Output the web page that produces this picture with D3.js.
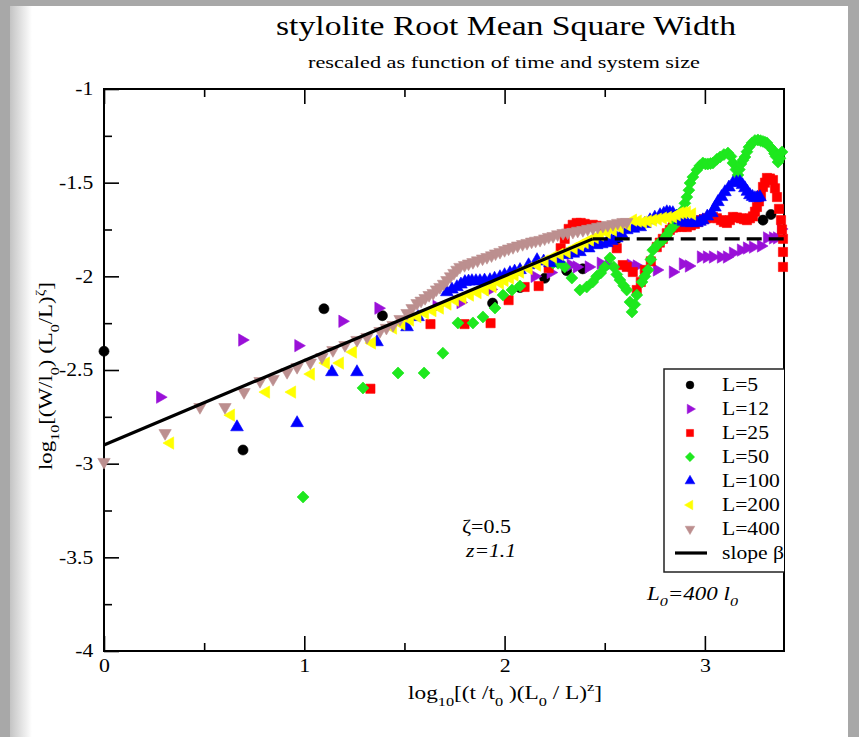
<!DOCTYPE html>
<html><head><meta charset="utf-8">
<script src="https://cdn.jsdelivr.net/npm/d3@7"></script>
<style>html,body{margin:0;padding:0;background:#fff}svg{display:block}</style>
</head><body>
<svg id="c" width="859" height="737"></svg>
<script>
// ---------- data (x = log10 rescaled time, y = log10 rescaled width) ----------
const L5 = [[0,-2.40],[0.694,-2.927],[1.098,-2.173],[1.39,-2.21],[1.94,-2.143],[2.077,-2.06],[2.2,-2.01],[2.31,-1.97],[2.39,-1.96],[2.56,-1.80],[2.84,-1.73],[3.29,-1.70],[3.33,-1.67]];
const L12 = [[0.28,-2.645],[0.69,-2.34],[0.97,-2.37],[1.19,-2.24],[1.37,-2.17],[1.66,-2.16],[1.78,-2.14],[1.93,-2.07],[2.15,-2.0],[2.23,-1.98],[2.33,-1.94],[2.36,-1.95],[2.42,-1.95],[2.48,-1.93],[2.52,-1.94],[2.63,-1.94],[2.66,-1.945],[2.76,-1.966],[2.84,-1.977],[2.89,-1.934],[2.92,-1.945],[2.98,-1.897],[3.01,-1.897],[3.04,-1.897],[3.08,-1.897],[3.11,-1.897],[3.14,-1.876],[3.18,-1.86],[3.21,-1.849],[3.24,-1.844],[3.28,-1.838],[3.31,-1.795],[3.34,-1.795],[3.36,-1.795],[3.38,-1.747]];
const L25 = [[1.33,-2.60],[1.63,-2.255],[1.80,-2.255],[1.93,-2.25],[2.02,-2.127],[2.10,-2.057],[2.17,-2.052],[2.22,-1.956],[2.28,-1.85],[2.30,-1.80],[2.32,-1.747],[2.34,-1.725],[2.36,-1.715],[2.38,-1.715],[2.40,-1.72],[2.42,-1.73],[2.44,-1.725],[2.46,-1.73],[2.56,-1.85],[2.59,-1.94],[2.61,-1.95],[2.64,-1.977],[2.66,-2.073],[2.68,-2.03],[2.70,-1.966],[2.73,-1.92],[2.76,-1.844],[2.775,-1.82],[2.79,-1.80],[2.81,-1.77],[2.825,-1.752],[2.84,-1.74],[2.86,-1.737],[2.885,-1.735],[2.91,-1.737],[2.93,-1.728],[2.95,-1.72],[2.965,-1.71],[2.98,-1.70],[2.995,-1.695],[3.01,-1.69],[3.025,-1.686],[3.04,-1.683],[3.06,-1.69],[3.08,-1.70],[3.095,-1.71],[3.11,-1.715],[3.125,-1.70],[3.14,-1.683],[3.16,-1.686],[3.18,-1.69],[3.195,-1.695],[3.21,-1.70],[3.225,-1.69],[3.24,-1.68],[3.25,-1.655],[3.26,-1.63],[3.27,-1.60],[3.28,-1.57],[3.29,-1.523],[3.30,-1.50],[3.31,-1.475],[3.325,-1.478],[3.34,-1.486],[3.35,-1.53],[3.36,-1.577],[3.37,-1.64],[3.38,-1.70],[3.385,-1.75],[3.39,-1.80],[3.39,-1.87],[3.39,-1.95]];
const L50 = [[0.994,-3.178],[1.293,-2.596],[1.468,-2.516],[1.598,-2.516],[1.692,-2.41],[1.767,-2.249],[1.842,-2.249],[1.892,-2.217],[1.952,-2.169],[1.992,-2.10],[2.037,-2.073],[2.077,-2.052],[2.242,-1.929],[2.267,-1.93],[2.30,-1.95],[2.336,-2.009],[2.376,-2.073],[2.41,-2.057],[2.44,-2.03],[2.46,-2.0],[2.48,-1.982],[2.50,-1.95],[2.526,-1.902],[2.545,-1.95],[2.56,-1.99],[2.576,-2.02],[2.595,-2.05],[2.61,-2.073],[2.626,-2.137],[2.636,-2.19],[2.65,-2.15],[2.66,-2.10],[2.686,-2.03],[2.70,-2.0],[2.716,-1.966],[2.73,-1.91],[2.74,-1.86],[2.765,-1.83],[2.79,-1.806],[2.81,-1.78],[2.826,-1.753],[2.845,-1.73],[2.86,-1.70],[2.875,-1.67],[2.89,-1.646],[2.90,-1.61],[2.91,-1.577],[2.92,-1.54],[2.926,-1.502],[2.94,-1.47],[2.96,-1.432],[2.975,-1.41],[2.99,-1.395],[3.003,-1.40],[3.015,-1.40],[3.028,-1.398],[3.04,-1.395],[3.06,-1.375],[3.076,-1.363],[3.095,-1.35],[3.115,-1.342],[3.13,-1.36],[3.14,-1.395],[3.155,-1.43],[3.165,-1.459],[3.172,-1.43],[3.18,-1.40],[3.19,-1.38],[3.20,-1.363],[3.21,-1.335],[3.22,-1.31],[3.235,-1.288],[3.25,-1.275],[3.265,-1.272],[3.278,-1.276],[3.29,-1.28],[3.30,-1.284],[3.31,-1.288],[3.325,-1.31],[3.34,-1.326],[3.348,-1.345],[3.355,-1.36],[3.365,-1.39],[3.375,-1.37],[3.385,-1.336]];
const L100 = [[0.664,-2.805],[0.964,-2.783],[1.138,-2.511],[1.263,-2.511],[1.363,-2.351],[1.513,-2.271],[1.568,-2.217],[1.712,-2.084],[1.737,-2.07],[1.762,-2.057],[1.782,-2.043],[1.802,-2.03],[1.82,-2.027],[1.837,-2.025],[1.857,-2.025],[1.877,-2.025],[1.90,-2.022],[1.927,-2.02],[1.95,-2.012],[1.977,-2.004],[2.0,-1.993],[2.027,-1.982],[2.05,-1.974],[2.077,-1.966],[2.12,-1.94],[2.162,-1.913],[2.195,-1.92],[2.227,-1.929],[2.27,-1.907],[2.31,-1.886],[2.343,-1.878],[2.376,-1.87],[2.42,-1.85],[2.46,-1.833],[2.485,-1.828],[2.51,-1.822],[2.535,-1.81],[2.56,-1.796],[2.585,-1.775],[2.61,-1.753],[2.643,-1.745],[2.677,-1.737],[2.70,-1.72],[2.726,-1.70],[2.75,-1.686],[2.776,-1.673],[2.795,-1.665],[2.81,-1.657],[2.825,-1.66],[2.84,-1.662],[2.858,-1.68],[2.876,-1.70],[2.893,-1.708],[2.91,-1.715],[2.935,-1.715],[2.96,-1.715],[2.975,-1.708],[2.99,-1.70],[3.012,-1.68],[3.035,-1.662],[3.05,-1.632],[3.065,-1.603],[3.083,-1.576],[3.10,-1.55],[3.12,-1.525],[3.14,-1.502],[3.158,-1.498],[3.175,-1.497],[3.188,-1.512],[3.20,-1.529],[3.212,-1.548],[3.225,-1.566],[3.238,-1.575],[3.25,-1.582],[3.262,-1.58],[3.275,-1.577]];
const L200 = [[0.33,-2.89],[0.634,-2.741],[0.809,-2.618],[0.939,-2.618],[1.033,-2.522],[1.108,-2.463],[1.178,-2.463],[1.243,-2.404],[1.338,-2.356],[1.443,-2.276],[1.485,-2.255],[1.528,-2.233],[1.565,-2.215],[1.603,-2.196],[1.64,-2.183],[1.677,-2.169],[1.715,-2.148],[1.752,-2.127],[1.79,-2.113],[1.827,-2.10],[1.865,-2.087],[1.902,-2.073],[1.94,-2.055],[1.977,-2.036],[2.0,-2.022],[2.027,-2.009],[2.05,-1.993],[2.077,-1.977],[2.12,-1.958],[2.162,-1.94],[2.20,-1.918],[2.242,-1.897],[2.275,-1.883],[2.31,-1.87],[2.345,-1.85],[2.376,-1.833],[2.40,-1.82],[2.426,-1.806],[2.45,-1.793],[2.476,-1.78],[2.51,-1.766],[2.541,-1.753],[2.575,-1.74],[2.611,-1.726],[2.641,-1.70],[2.665,-1.705],[2.691,-1.71],[2.715,-1.705],[2.741,-1.70],[2.765,-1.695],[2.791,-1.689],[2.815,-1.686],[2.841,-1.683],[2.86,-1.672],[2.876,-1.662],[2.893,-1.66],[2.91,-1.657],[2.936,-1.667]];
const L400 = [[0,-2.991],[0.305,-2.837],[0.479,-2.698],[0.604,-2.698],[0.699,-2.618],[0.779,-2.559],[0.844,-2.548],[0.914,-2.511],[0.964,-2.484],[1.03,-2.46],[1.088,-2.431],[1.143,-2.394],[1.203,-2.367],[1.263,-2.34],[1.313,-2.324],[1.378,-2.292],[1.41,-2.275],[1.443,-2.26],[1.478,-2.228],[1.513,-2.196],[1.538,-2.17],[1.563,-2.143],[1.583,-2.13],[1.603,-2.116],[1.623,-2.10],[1.643,-2.089],[1.66,-2.07],[1.677,-2.057],[1.695,-2.04],[1.712,-2.02],[1.73,-2.0],[1.747,-1.982],[1.762,-1.965],[1.777,-1.95],[1.80,-1.94],[1.82,-1.932],[1.842,-1.924],[1.865,-1.915],[1.89,-1.905],[1.912,-1.897],[1.935,-1.888],[1.955,-1.878],[1.977,-1.87],[2.0,-1.86],[2.02,-1.852],[2.042,-1.844],[2.065,-1.836],[2.09,-1.828],[2.112,-1.822],[2.135,-1.815],[2.155,-1.81],[2.177,-1.806],[2.20,-1.798],[2.22,-1.79],[2.242,-1.785],[2.265,-1.776],[2.292,-1.769],[2.315,-1.766],[2.341,-1.763],[2.365,-1.757],[2.391,-1.753],[2.415,-1.747],[2.441,-1.742],[2.465,-1.736],[2.491,-1.731],[2.515,-1.726],[2.541,-1.721],[2.565,-1.715],[2.591,-1.71],[2.61,-1.71]];
const slopeLine = [[0,-2.9],[2.44,-1.8]];
const plateauLine = [[2.44,-1.8],[3.4,-1.8]];
const seriesNames = ["L=5","L=12","L=25","L=50","L=100","L=200","L=400"];
const xMajor = [0,1,2,3], xMinor = [0.5,1.5,2.5];
const yMajor = [-4,-3.5,-3,-2.5,-2,-1.5,-1], yMinor = [-3.75,-3.25,-2.75,-2.25,-1.75,-1.25];

// ---------- styles ----------
const seriesData = [L5,L12,L25,L50,L100,L200,L400];
const colors = ["#000000","#9a10d8","#ff0000","#1ee81e","#0000ff","#ffff00","#bc8f8f"];
const shapes = [
  {t:d3.symbolCircle,s:80,r:0},{t:d3.symbolTriangle,s:66,r:90},{t:d3.symbolSquare,s:85,r:0},
  {t:d3.symbolSquare,s:72,r:45},{t:d3.symbolTriangle,s:70,r:0},{t:d3.symbolTriangle,s:66,r:-90},
  {t:d3.symbolTriangle,s:66,r:180}];
const FONT = "'Liberation Serif','Times New Roman',serif";

const svg = d3.select("#c");
// background frame
const defs = svg.append("defs");
const g1 = defs.append("linearGradient").attr("id","lg").attr("x1","0").attr("x2","1");
g1.append("stop").attr("offset","0").attr("stop-color","#c4c4c4");
g1.append("stop").attr("offset","1").attr("stop-color","#ffffff");
defs.append("clipPath").attr("id","clipR").append("rect").attr("x",0).attr("y",0).attr("width",784).attr("height",737);
svg.append("rect").attr("width",859).attr("height",737).attr("fill","#a8a8a8");
svg.append("rect").attr("x",10).attr("y",6).attr("width",838).attr("height",731).attr("fill","#fff");
svg.append("rect").attr("x",10).attr("y",6).attr("width",22).attr("height",731).attr("fill","url(#lg)");

const x = d3.scaleLinear().domain([0,3.4]).range([104,785]);
const y = d3.scaleLinear().domain([-4,-1]).range([651,89]);

// axes (inward ticks)
function ax(gen, t, vals, size, lab){
  const a = gen.tickValues(vals).tickSizeInner(-size).tickSizeOuter(0);
  if(!lab) a.tickFormat("");
  const g = svg.append("g").attr("transform",t).call(a);
  g.select(".domain").remove();
  g.selectAll("line").attr("stroke","#000").attr("stroke-width",1.6);
  return g;
}
const bx = ax(d3.axisBottom(x).tickPadding(8).tickFormat(d=>String(d)),"translate(0,651)",xMajor,15,true);
bx.selectAll("text").attr("font-family",FONT).attr("font-size",19).attr("fill","#000").attr("transform","scale(1.15,1)");
ax(d3.axisBottom(x),"translate(0,651)",xMinor,8,false);
ax(d3.axisTop(x),"translate(0,89)",xMajor,15,false);
ax(d3.axisTop(x),"translate(0,89)",xMinor,8,false);
const ly = ax(d3.axisLeft(y).tickPadding(9).tickFormat(d=>String(d)),"translate(104,0)",yMajor,15,true);
ly.selectAll("text").attr("font-family",FONT).attr("font-size",18).attr("fill","#000").attr("transform","scale(1.2,1)");
ax(d3.axisLeft(y),"translate(104,0)",yMinor,8,false);

// frame
svg.append("rect").attr("x",x(0)).attr("y",y(-1)).attr("width",x(3.4)-x(0)-1).attr("height",y(-4)-y(-1))
  .attr("fill","none").attr("stroke","#000").attr("stroke-width",2);

// markers
seriesData.forEach((data,i)=>{
  const sh = shapes[i];
  const path = d3.symbol(sh.t, sh.s)();
  svg.append("g").selectAll("path").data(data).join("path")
    .attr("d",path)
    .attr("transform",d=>`translate(${x(d[0])},${y(d[1])}) rotate(${sh.r})`)
    .attr("fill",colors[i]).attr("stroke",colors[i]).attr("stroke-width",0.6);
});

// slope lines
const line = d3.line().x(d=>x(d[0])).y(d=>y(d[1]));
svg.append("path").attr("d",line(slopeLine)).attr("stroke","#000").attr("stroke-width",3.2).attr("fill","none");
svg.append("path").attr("d",line(plateauLine)).attr("stroke","#000").attr("stroke-width",3.2).attr("fill","none").attr("stroke-dasharray","15,7");

// legend (clipped at right edge of plot)
const lg = svg.append("g").attr("clip-path","url(#clipR)");
lg.append("rect").attr("x",664).attr("y",369).attr("width",180).attr("height",203).attr("fill","#fff").attr("stroke","#222").attr("stroke-width",1.5);
const legendLabels = seriesNames.concat(["slope β"]);
legendLabels.forEach((lab,i)=>{
  const cy = 385 + i*24;
  if(i<7){
    const sh = shapes[i];
    lg.append("path").attr("d",d3.symbol(sh.t, sh.s*0.6)()).attr("transform",`translate(690,${cy}) rotate(${sh.r})`)
      .attr("fill",colors[i]).attr("stroke",colors[i]).attr("stroke-width",0.5);
  } else {
    lg.append("line").attr("x1",675).attr("x2",707).attr("y1",cy).attr("y2",cy).attr("stroke","#000").attr("stroke-width",3.2);
  }
  lg.append("text").attr("transform",`translate(722,${cy+6}) scale(1.2,1)`).attr("font-family",FONT).attr("font-size",18).text(lab);
});

// texts
function txt(xp,yp,size,len,opts={}){
  const t = svg.append("text").attr("x",xp).attr("y",yp).attr("font-family",FONT).attr("font-size",size).attr("fill","#000");
  if(len) t.attr("textLength",len).attr("lengthAdjust","spacingAndGlyphs");
  if(opts.italic) t.attr("font-style","italic");
  if(opts.transform) t.attr("transform",opts.transform);
  return t;
}
function parts(t, arr, size){
  let cur = 0;
  arr.forEach(([s,sh])=>{
    const target = sh===1 ? 0.35*size : sh===-1 ? -0.4*size : 0;
    const ts = t.append("tspan").attr("dy", target-cur).text(s);
    if(sh!==0) ts.attr("font-size", size*0.7);
    cur = target;
  });
}
txt(276,35,27,460).text("stylolite Root Mean Square Width");
txt(308,68,17.5,392).text("rescaled as function of time and system size");

const xl = txt(408,699,19,194);
parts(xl,[["log",0],["10",1],["[(t /t",0],["0",1],[" )(L",0],["0",1],[" / L)",0],["z",-1],["]",0]],19);

const yl = txt(0,0,19,188,{transform:"translate(52,470) rotate(-90)"});
parts(yl,[["log",0],["10",1],["[(W/l",0],["0",1],[") (L",0],["0",1],["/L)",0],["ζ",-1],["]",0]],19);

txt(462,533,18,49).text("ζ=0.5");
txt(466,557,18,50,{italic:true}).text("z=1.1");
const l0 = txt(647,600,18,91,{italic:true});
parts(l0,[["L",0],["0",1],["=400 l",0],["0",1]],18);
</script>
</body></html>
